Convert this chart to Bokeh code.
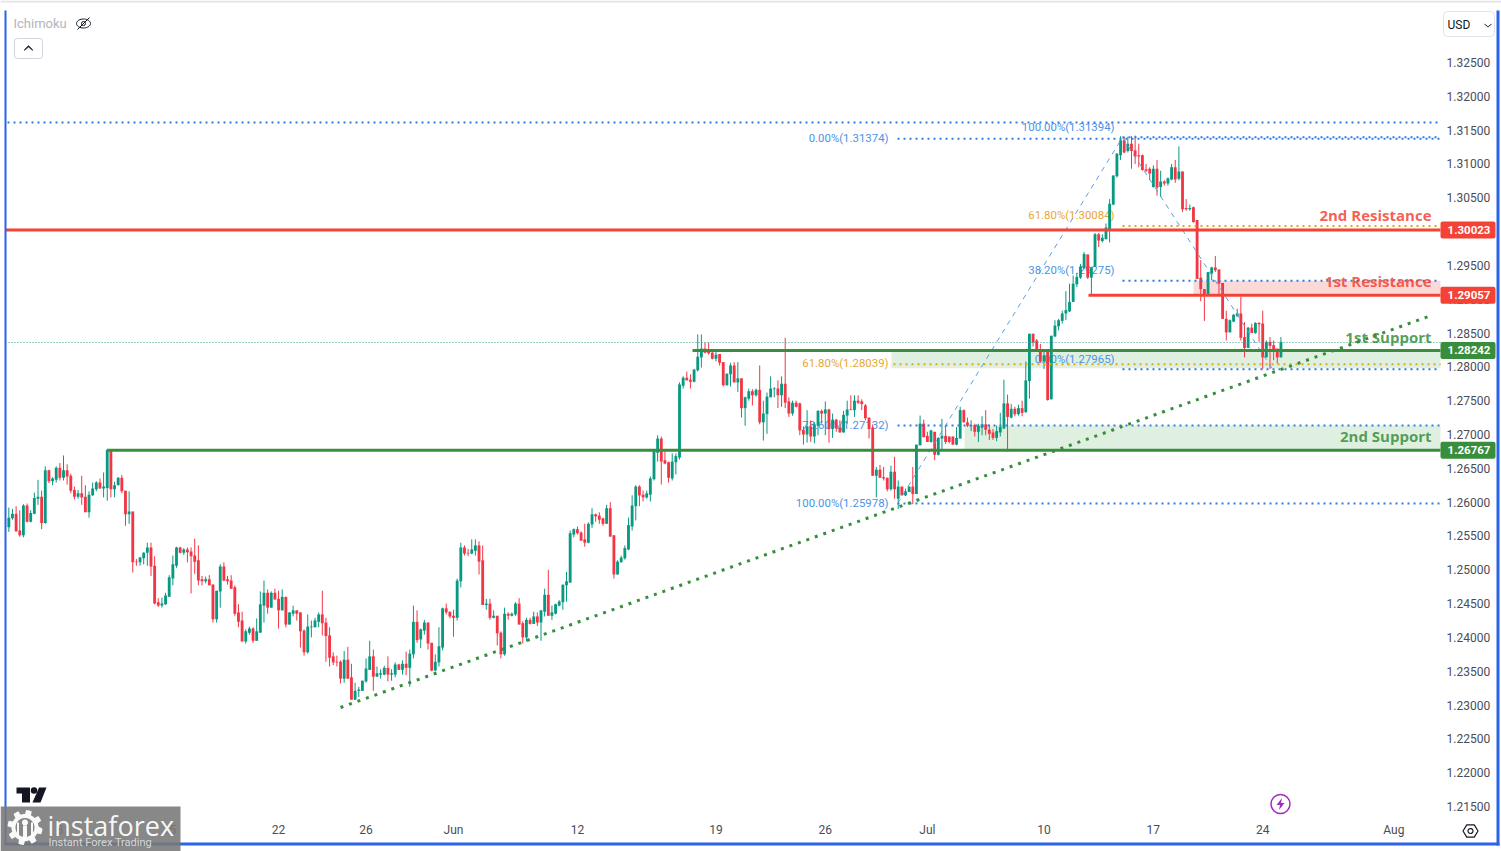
import numpy as np
from bokeh.plotting import figure
from bokeh.embed import file_html
from bokeh.resources import INLINE
from bokeh.models import (BoxAnnotation, Label, PolyAnnotation, FixedTicker, NumeralTickFormatter,
                          Range1d)
from bokeh.core.properties import value

# prices in pips (price x 10000), one candle per four hours
open_pips = [
12563,12576,12583,12558,12551,12595,12571,12583,12605,12608,
12569,12647,12631,12633,12651,12636,12647,12639,12618,12608,
12613,12608,12585,12610,12619,12629,12620,12621,12676,12619,
12625,12636,12617,12582,12586,12512,12511,12517,12525,12533,
12506,12452,12447,12449,12460,12487,12506,12533,12525,12530,
12527,12521,12514,12486,12483,12486,12478,12427,12468,12505,
12486,12484,12474,12437,12425,12394,12407,12413,12395,12407,
12447,12466,12444,12466,12457,12440,12460,12419,12435,12440,
12437,12410,12378,12415,12415,12423,12434,12422,12403,12372,
12364,12364,12339,12367,12341,12308,12321,12321,12335,12352,
12372,12342,12345,12345,12355,12345,12345,12360,12352,12361,
12355,12375,12423,12397,12410,12422,12392,12351,12363,12385,
12443,12438,12432,12429,12483,12533,12525,12524,12528,12536,
12514,12448,12450,12429,12432,12407,12375,12435,12432,12434,
12450,12421,12400,12426,12420,12431,12422,12438,12463,12432,
12435,12447,12452,12477,12481,12552,12560,12555,12545,12540,
12567,12582,12580,12576,12568,12591,12551,12493,12511,12517,
12530,12564,12594,12623,12611,12607,12611,12634,12673,12694,
12662,12659,12635,12659,12666,12772,12784,12781,12778,12795,
12814,12827,12823,12821,12812,12819,12807,12773,12789,12802,
12777,12783,12739,12753,12764,12758,12766,12718,12730,12755,
12767,12768,12758,12775,12749,12731,12747,12746,12707,12700,
12712,12697,12713,12735,12731,12737,12708,12722,12710,12703,
12728,12737,12736,12750,12749,12743,12725,12710,12639,12648,
12637,12636,12619,12645,12605,12623,12610,12615,12623,12612,
12684,12716,12698,12689,12704,12670,12694,12698,12697,12697,
12685,12694,12736,12718,12713,12714,12704,12710,12715,12707,
12703,12695,12703,12709,12746,12725,12738,12730,12739,12733,
12779,12849,12839,12825,12808,12822,12752,12845,12860,12868,
12879,12882,12896,12922,12932,12946,12966,12932,12948,12996,
12986,12989,13004,13040,13082,13113,13135,13119,13130,13120,
13113,13113,13092,13093,13066,13093,13066,13074,13071,13077,
13095,13078,13089,13035,13033,13036,13017,12932,12915,12907,
12938,12947,12944,12924,12871,12851,12867,12875,12879,12844,
12828,12858,12850,12865,12864,12814,12837,12832,12827,12814]
close_pips = [
12577,12583,12557,12551,12595,12571,12584,12606,12608,12569,
12647,12631,12635,12651,12636,12647,12638,12617,12608,12613,
12607,12585,12611,12620,12629,12620,12623,12677,12619,12625,
12636,12616,12582,12586,12511,12511,12518,12525,12533,12505,
12450,12447,12450,12462,12489,12508,12533,12525,12530,12526,
12520,12512,12484,12483,12486,12477,12427,12469,12505,12484,
12483,12472,12435,12423,12394,12409,12413,12395,12409,12449,
12466,12444,12466,12456,12440,12460,12419,12437,12440,12435,
12409,12378,12416,12416,12425,12434,12421,12402,12370,12363,
12363,12339,12367,12339,12308,12321,12323,12336,12354,12372,
12342,12347,12347,12355,12345,12347,12360,12352,12361,12355,
12376,12423,12396,12412,12422,12391,12351,12364,12387,12443,
12437,12431,12429,12484,12533,12524,12524,12530,12536,12512,
12448,12450,12429,12432,12406,12375,12435,12432,12435,12450,
12419,12400,12426,12420,12431,12422,12440,12463,12432,12437,
12449,12453,12478,12483,12554,12560,12554,12543,12540,12568,
12582,12579,12574,12568,12591,12549,12493,12512,12518,12532,
12566,12595,12623,12610,12607,12613,12635,12675,12694,12660,
12657,12636,12660,12668,12774,12784,12780,12778,12796,12815,
12827,12821,12820,12812,12818,12806,12773,12790,12802,12777,
12783,12739,12755,12764,12758,12766,12718,12731,12756,12768,
12768,12758,12775,12747,12731,12747,12741,12706,12700,12712,
12697,12715,12735,12731,12737,12708,12722,12709,12703,12729,
12737,12736,12750,12747,12745,12724,12708,12639,12648,12636,
12635,12619,12645,12619,12623,12610,12616,12623,12612,12685,
12716,12696,12689,12706,12670,12695,12698,12689,12689,12685,
12695,12736,12718,12713,12714,12704,12713,12715,12707,12701,
12695,12705,12711,12746,12726,12738,12730,12739,12732,12780,
12849,12836,12824,12808,12817,12751,12846,12861,12869,12879,
12884,12896,12923,12933,12948,12967,12932,12947,12996,12987,
12991,13006,13041,13083,13115,13135,13117,13130,13119,13111,
13111,13091,13090,13086,13093,13065,13074,13071,13079,13095,
13077,13089,13033,13033,13035,13014,12930,12915,12907,12940,
12947,12943,12923,12871,12851,12869,12877,12879,12843,12828,
12858,12850,12865,12863,12814,12837,12831,12822,12814,12837]
high_pips = [
12592,12590,12594,12588,12597,12598,12588,12614,12633,12617,
12653,12648,12637,12653,12658,12669,12656,12642,12623,12618,
12639,12625,12616,12629,12631,12635,12644,12679,12677,12630,
12637,12640,12617,12616,12586,12516,12519,12526,12540,12540,
12520,12458,12459,12466,12492,12521,12534,12534,12532,12533,
12533,12546,12536,12491,12490,12492,12479,12469,12508,12511,
12491,12492,12477,12449,12438,12412,12416,12415,12428,12468,
12484,12471,12468,12472,12469,12471,12460,12437,12447,12440,
12437,12412,12434,12425,12429,12437,12469,12429,12415,12378,
12373,12366,12380,12386,12361,12333,12327,12336,12369,12395,
12382,12357,12353,12358,12372,12353,12363,12361,12366,12379,
12382,12447,12440,12413,12426,12422,12392,12375,12415,12444,
12450,12438,12441,12487,12540,12536,12531,12545,12545,12542,
12536,12457,12457,12440,12432,12409,12444,12437,12437,12452,
12458,12424,12429,12429,12438,12437,12440,12472,12500,12447,
12450,12455,12478,12497,12558,12561,12564,12557,12568,12570,
12591,12583,12585,12577,12596,12600,12551,12514,12521,12536,
12577,12610,12625,12625,12617,12617,12638,12678,12699,12697,
12675,12660,12672,12672,12777,12786,12793,12789,12797,12848,
12848,12836,12836,12824,12824,12819,12807,12790,12806,12807,
12807,12783,12756,12768,12767,12768,12802,12750,12762,12786,
12770,12780,12786,12843,12755,12750,12750,12747,12712,12736,
12721,12718,12736,12737,12749,12738,12731,12723,12721,12735,
12750,12758,12758,12758,12752,12745,12725,12715,12652,12655,
12652,12636,12654,12667,12632,12623,12620,12623,12652,12685,
12728,12722,12704,12707,12704,12696,12723,12713,12697,12697,
12711,12741,12737,12725,12721,12716,12716,12727,12736,12715,
12708,12713,12732,12781,12759,12745,12741,12744,12750,12808,
12849,12849,12841,12834,12822,12824,12846,12869,12871,12883,
12912,12923,12935,12939,12952,12970,12966,12948,12998,12998,
12996,13012,13048,13083,13116,13141,13140,13140,13141,13142,
13130,13114,13100,13095,13098,13106,13090,13076,13080,13100,
13106,13126,13089,13048,13040,13037,13017,12958,12915,12940,
12948,12964,12944,12924,12883,12870,12878,12886,12903,12866,
12859,12864,12866,12866,12883,12839,12844,12839,12827,12844]
low_pips = [
12556,12574,12556,12549,12548,12570,12570,12582,12596,12560,
12568,12628,12625,12629,12632,12632,12626,12613,12604,12605,
12596,12585,12577,12609,12616,12620,12607,12602,12607,12607,
12625,12613,12565,12568,12496,12506,12506,12508,12506,12491,
12449,12445,12444,12448,12460,12477,12503,12524,12522,12511,
12465,12494,12477,12477,12480,12477,12422,12422,12444,12483,
12478,12472,12432,12415,12394,12391,12404,12392,12395,12407,
12422,12435,12444,12456,12413,12440,12415,12419,12431,12425,
12385,12373,12376,12400,12415,12415,12403,12364,12357,12359,
12357,12332,12333,12339,12308,12308,12312,12321,12333,12352,
12321,12342,12339,12344,12335,12336,12341,12352,12345,12344,
12327,12369,12392,12384,12404,12382,12350,12350,12357,12381,
12434,12428,12401,12425,12474,12521,12520,12523,12521,12493,
12448,12441,12426,12428,12388,12369,12373,12426,12431,12432,
12419,12391,12394,12419,12420,12417,12395,12431,12432,12426,
12434,12446,12441,12453,12481,12548,12552,12543,12534,12539,
12562,12571,12568,12565,12568,12549,12487,12493,12511,12515,
12529,12558,12573,12594,12601,12605,12601,12632,12660,12626,
12656,12629,12632,12641,12663,12768,12780,12768,12777,12793,
12799,12820,12818,12811,12808,12802,12771,12772,12771,12777,
12763,12725,12713,12750,12743,12756,12715,12691,12701,12755,
12755,12739,12741,12739,12726,12728,12740,12699,12685,12688,
12689,12687,12699,12716,12699,12688,12695,12704,12703,12703,
12716,12736,12726,12745,12736,12721,12694,12639,12607,12636,
12632,12616,12617,12605,12590,12610,12609,12615,12597,12612,
12684,12696,12689,12688,12662,12669,12677,12686,12687,12685,
12684,12694,12718,12711,12705,12697,12689,12699,12699,12692,
12692,12690,12697,12708,12675,12724,12727,12728,12727,12732,
12753,12830,12822,12806,12797,12750,12752,12844,12854,12864,
12869,12881,12896,12918,12930,12945,12930,12906,12948,12977,
12984,12988,12984,13039,13080,13106,13116,13117,13093,13100,
13095,13090,13088,13076,13065,13053,13051,13068,13068,13076,
13072,13076,13029,13031,13031,13013,12930,12897,12868,12907,
12928,12940,12906,12871,12839,12851,12866,12874,12839,12814,
12828,12850,12849,12837,12797,12814,12797,12810,12805,12814]

price_ticks = [1.215 + 0.005 * k for k in range(23)]
date_tick_bars = [14, 44, 74, 98, 122, 156, 194, 224, 252, 284, 314, 344, 380]
date_tick_labels = ["8", "15", "22", "26", "Jun", "12", "19", "26", "Jul", "10", "17", "24", "Aug"]

res2, res1, sup1, sup2 = 1.30023, 1.29057, 1.28242, 1.26767
zone_res1 = (1.29057, 1.29275)
zone_sup1 = (1.27980, 1.28242)
zone_sup2 = (1.26767, 1.27132)
swing_low, swing_high, swing_end = 1.25978, 1.31394, 1.27965
last_price = 1.2836
upper_dotted = 1.31613
trend_start, trend_end = (91, 1.22964), (389.5, 1.28745)
fib_left = [("0.00%(1.31374)", 1.31374, "blue"), ("61.80%(1.28039)", 1.28039, "gold"),
            ("78.60%(1.27132)", 1.27132, "blue"), ("100.00%(1.25978)", 1.25978, "blue")]
fib_right = [("100.00%(1.31394)", 1.31394, "blue"), ("61.80%(1.30084)", 1.30084, "gold"),
             ("38.20%(1.29275)", 1.29275, "blue"), ("0.00%(1.27965)", 1.27965, "blue")]

W, H = 1501, 851
FR = 1440
BAR0, BARSTEP = 8.33, 3.645
PY0, PPY = 1.334167, 0.00014785
def X(px): return (px - BAR0) / BARSTEP
def Y(py): return PY0 - py * PPY
def Ypx(price): return (PY0 - price) / PPY

GREEN, RED = "#089981", "#f23645"
LV_RED, LV_GREEN = "#f44336", "#388e3c"
BLUE, GOLD = "#2e7de0", "#dfa81f"
BTXT, GTXT = "#4a94e8", "#e8a830"
EDGE = "#2a62ea"
FONT = "Roboto"

p = figure(width=W, height=H, output_backend="svg", toolbar_location=None,
           x_range=Range1d(X(0), X(W)), y_range=Range1d(Y(H), Y(0)),
           y_axis_location="right", min_border=0,
           background_fill_color="white", border_fill_color="white")
p.outline_line_color = None
p.grid.visible = False

ya = p.yaxis[0]
ya.fixed_location = X(1440)
ya.ticker = FixedTicker(ticks=price_ticks)
ya.formatter = NumeralTickFormatter(format="0.00000")
xa = p.xaxis[0]
xa.fixed_location = Y(811)
xa.ticker = FixedTicker(ticks=date_tick_bars)
xa.major_label_overrides = dict(zip(date_tick_bars, date_tick_labels))
for ax in (xa, ya):
    ax.axis_line_color = None
    ax.major_tick_line_color = None
    ax.minor_tick_line_color = None
    ax.major_label_text_font = FONT
    ax.major_label_text_font_size = "12px"
    ax.major_label_text_color = "#4a4d57"
ya.major_label_standoff = 0
xa.major_label_standoff = 5

# zones below candles
right = X(FR)
p.quad(left=[X(1193)], right=[right], bottom=[zone_res1[0]], top=[zone_res1[1]], fill_color="#fcd9d9", line_color=None)
p.quad(left=[X(891)], right=[right], bottom=[zone_sup1[0]], top=[zone_sup1[1]], fill_color="#e0f0e0", line_color=None)
p.quad(left=[X(964)], right=[right], bottom=[zone_sup2[0]], top=[zone_sup2[1]], fill_color="#e0f0e0", line_color=None)

# fibonacci labels below candles
for items, px in ((fib_left, 888), (fib_right, 1114)):
    for txt, price, col in items:
        dy = 0
        if items is fib_right:
            dy = {"100": 9, "61.": 10, "38.": 10, "0.0": 9}[txt[:3]]
        p.text(x=[X(px)], y=[Y(Ypx(price) - dy - 1)], text=[txt], text_align="right", text_baseline="middle",
               text_font=value(FONT), text_font_size="11.4px",
               text_color=GTXT if col == "gold" else BTXT)

# candles
bars = np.arange(len(open_pips))
o = np.array(open_pips) / 1e4
c = np.array(close_pips) / 1e4
h = np.array(high_pips) / 1e4
l = np.array(low_pips) / 1e4
cols = [GREEN if cc >= oo else RED for oo, cc in zip(o, c)]
p.segment(x0=bars, x1=bars, y0=l, y1=h, line_color=cols, line_width=1)
p.vbar(x=bars, width=0.78, top=np.maximum(o, c), bottom=np.minimum(o, c), fill_color=cols, line_color=None)

# levels
dots = "2 4"
p.segment(x0=[X(5)], x1=[right], y0=[last_price], y1=[last_price], line_color="#2e9c8c", line_width=1, line_dash="1 2")
p.segment(x0=[X(7)], x1=[right], y0=[upper_dotted], y1=[upper_dotted], line_color=BLUE, line_width=2, line_dash=dots)
for start, lv, col in ((897, 1.31374, BLUE), (1122, 1.31394, BLUE), (1122, 1.30084, GOLD), (1122, 1.29275, BLUE),
                       (893, 1.28039, GOLD), (1122, 1.27965, BLUE), (897, 1.27132, BLUE), (897, 1.25978, BLUE)):
    p.segment(x0=[X(start)], x1=[right], y0=[lv], y1=[lv], line_color=col, line_width=2, line_dash=dots)
p.line(x=[X(897), X(1122)], y=[swing_low, swing_high], line_color="#5a9fe8", line_width=1, line_dash="5 5")
p.line(x=[X(1122), X(1272)], y=[swing_high, swing_end], line_color="#5a9fe8", line_width=1, line_dash="5 5")
p.segment(x0=[X(5)], x1=[right], y0=[res2], y1=[res2], line_color=LV_RED, line_width=3)
p.segment(x0=[X(1088)], x1=[right], y0=[res1], y1=[res1], line_color=LV_RED, line_width=3)
p.segment(x0=[X(692)], x1=[right], y0=[sup1], y1=[sup1], line_color=LV_GREEN, line_width=3)
p.segment(x0=[X(107)], x1=[right], y0=[sup2], y1=[sup2], line_color=LV_GREEN, line_width=3)
p.line(x=[trend_start[0], trend_end[0]], y=[trend_start[1], trend_end[1]], line_color=LV_GREEN, line_width=3, line_dash="3 6")

# annotated level names
for txt, py, col in (("2nd Resistance", 214.5, LV_RED), ("1st Resistance", 280, LV_RED),
                     ("1st Support", 336, LV_GREEN), ("2nd Support", 435, LV_GREEN)):
    p.add_layout(Label(x=X(1431), y=Y(py), text=txt, text_align="right", text_baseline="middle",
                       text_font="Open Sans", text_font_style="bold", text_font_size="15px", text_color=col, text_alpha=0.85))

# price tags
for price, col in ((res2, LV_RED), (res1, LV_RED), (sup1, LV_GREEN), (sup2, LV_GREEN)):
    yc = Ypx(price)
    p.add_layout(BoxAnnotation(left=X(1440), right=X(1495), top=Y(yc - 8.5), bottom=Y(yc + 8.5),
                               fill_color=col, fill_alpha=1, line_color=None, border_radius=2))
    p.add_layout(Label(x=X(1468.5), y=price, text=f"{price:.5f}", text_align="center", text_baseline="middle",
                       text_font=FONT, text_font_style="bold", text_font_size="11.5px", text_color="white"))

# chrome: panel edges
def box(x0, x1, y0, y1, **kw):
    p.add_layout(BoxAnnotation(left=X(x0), right=X(x1), top=Y(y0), bottom=Y(y1), **kw))
box(0, W, 0, 2, fill_color="#e4e4e4", fill_alpha=1, line_color=None)
box(4, 6, 10, 844, fill_color=EDGE, fill_alpha=1, line_color=None)
box(1496, 1499, 10, 845, fill_color=EDGE, fill_alpha=1, line_color=None)
box(4, 1499, 842, 845, fill_color=EDGE, fill_alpha=1, line_color=None)

# top-left legend
p.add_layout(Label(x=X(13), y=Y(23), text="Ichimoku", text_baseline="middle", text_font=FONT,
                   text_font_size="13px", text_color="#b2b5be"))
t = np.linspace(0, 2 * np.pi, 40)
p.line(x=X(83 + 7 * np.cos(t)), y=Y(23 + 4.5 * np.sin(t)), line_color="#131722", line_width=1)
p.scatter(x=[X(83)], y=[Y(23)], size=4, marker="circle", fill_color=None, line_color="#131722")
p.line(x=[X(77), X(89)], y=[Y(29), Y(17)], line_color="#131722", line_width=1)
box(14, 42, 38, 58, fill_color="white", fill_alpha=1, line_color="#d1d4dc", line_alpha=1, border_radius=3)
p.add_layout(PolyAnnotation(xs=[X(24), X(28), X(32), X(32), X(28), X(24)], ys=[Y(49), Y(45), Y(49), Y(50), Y(46.5), Y(50)],
                            fill_color="#131722", fill_alpha=1, line_color="#131722", line_alpha=1, line_width=0.5))

# currency selector
box(1443, 1494, 11, 36, fill_color="white", fill_alpha=1, line_color="#e0e3eb", line_alpha=1, border_radius=4)
p.add_layout(Label(x=X(1447), y=Y(24), text="USD", text_baseline="middle", text_font=FONT, text_font_size="12px", text_color="#131722"))
p.add_layout(PolyAnnotation(xs=[X(1484), X(1487.5), X(1491), X(1491), X(1487.5), X(1484)], ys=[Y(23), Y(26), Y(23), Y(24), Y(27), Y(24)],
                            fill_color="#131722", fill_alpha=1, line_color=None))

# lightning badge
p.scatter(x=[X(1280)], y=[Y(803.5)], size=19, marker="circle", fill_color=None, line_color="#a32bbd", line_width=1.5)
p.patch(x=[X(1281.5), X(1276), X(1279.5), X(1278.5), X(1284), X(1280.5)], y=[Y(797.5), Y(804.5), Y(804.5), Y(809.5), Y(802.5), Y(802.5)],
        fill_color="#a32bbd", line_color=None)

# settings hexagon
a = np.deg2rad(np.arange(0, 360, 60))
p.add_layout(PolyAnnotation(xs=list(X(1470 + 7.5 * np.cos(a))), ys=list(Y(830.5 + 7 * np.sin(a))),
                            fill_color="white", fill_alpha=1, line_color="#131722", line_alpha=1, line_width=1.2))
a2 = np.linspace(0, 2 * np.pi, 20)[:-1]
p.add_layout(PolyAnnotation(xs=list(X(1470 + 2.5 * np.cos(a2))), ys=list(Y(830.5 + 2.5 * np.sin(a2))),
                            fill_color="white", fill_alpha=1, line_color="#131722", line_alpha=1, line_width=1.2))

# tradingview mark
LOGO = "#131722"
p.patch(x=[X(16), X(29.5), X(29.5), X(21.5), X(21.5), X(16)], y=[Y(787), Y(787), Y(802), Y(802), Y(793), Y(793)], fill_color=LOGO, line_color=None)
p.scatter(x=[X(33.5)], y=[Y(790)], size=6.5, marker="circle", fill_color=LOGO, line_color=None)
p.patch(x=[X(38.5), X(46), X(40), X(32)], y=[Y(787), Y(787), Y(802), Y(802)], fill_color=LOGO, line_color=None)

# watermark
box(0, 180, 806, 851, fill_color="#787878", fill_alpha=0.88, line_color=None)
cx, cy = 24.5, 827
ga = np.linspace(0, 2 * np.pi, 97)[:-1]
gr = 15.5 + 2 * np.sign(np.sin(8 * ga))
p.add_layout(PolyAnnotation(xs=list(X(cx + gr * np.cos(ga))), ys=list(Y(cy + gr * np.sin(ga))),
                            fill_color="white", fill_alpha=0.95, line_color=None))
p.add_layout(PolyAnnotation(xs=list(X(cx + 9.5 * np.cos(ga))), ys=list(Y(cy + 9.5 * np.sin(ga))),
                            fill_color="#868686", fill_alpha=1, line_color=None))
p.add_layout(PolyAnnotation(xs=list(X(cx + 3 * np.cos(ga))), ys=list(Y(cy - 5 + 3 * np.sin(ga))),
                            fill_color="white", fill_alpha=0.95, line_color=None))
box(cx - 2, cx + 2, cy - 2, cy + 13, fill_color="white", fill_alpha=0.95, line_color=None)
box(cx - 8, cx - 6, cy - 5, cy + 9, fill_color="white", fill_alpha=0.95, line_color=None)
box(cx + 6, cx + 8, cy - 5, cy + 9, fill_color="white", fill_alpha=0.95, line_color=None)
p.add_layout(Label(x=X(47), y=Y(825), text="instaforex", text_baseline="middle", text_font="Open Sans",
                   text_font_size="27px", text_color="white", text_alpha=0.95))
p.add_layout(Label(x=X(48), y=Y(842), text="Instant Forex Trading", text_baseline="middle", text_font=FONT,
                   text_font_size="11px", text_color="#d8d8d8"))

open("out.html", "w").write(file_html(p, INLINE))
